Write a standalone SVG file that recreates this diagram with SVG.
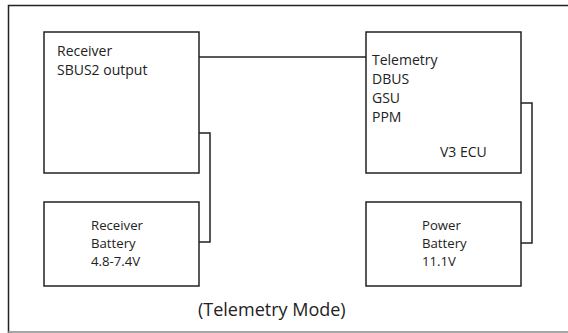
<svg xmlns="http://www.w3.org/2000/svg" width="568" height="333" viewBox="0 0 568 333">
<style>
.box{fill:#fff;stroke:#222;stroke-width:1.5}
.wire{fill:none;stroke:#222;stroke-width:1.5}
text{font-family:"Open Sans","Noto Sans",sans-serif;font-size:14px;fill:#222}
.sm{font-size:13.2px}
.big{font-size:18px}
</style>
<rect width="568" height="333" fill="#fff"/>
<g id="frame">
<path d="M8.5,333 V5.5 H568" class="wire"/>
<line x1="8" y1="332" x2="568" y2="332" stroke="#888" stroke-width="1.5"/>
</g>
<g id="connectors">
<path class="wire" d="M199,57 H366"/>
<path class="wire" d="M199,133 H210 V242 H199"/>
<path class="wire" d="M521,103 H532 V243 H521"/>
</g>
<g id="receiver">
<rect class="box" x="44" y="32" width="155" height="141"/>
<text x="57" y="56">Receiver</text>
<text x="57" y="75">SBUS2 output</text>
</g>
<g id="ecu">
<rect class="box" x="366" y="32" width="155" height="141"/>
<text x="372" y="65">Telemetry</text>
<text x="372" y="84">DBUS</text>
<text x="372" y="103">GSU</text>
<text x="372" y="122">PPM</text>
<text x="440" y="157">V3 ECU</text>
</g>
<g id="receiver-battery">
<rect class="box" x="44" y="202" width="155" height="84"/>
<text class="sm" x="91" y="230">Receiver</text>
<text class="sm" x="91" y="248">Battery</text>
<text class="sm" x="91" y="266">4.8-7.4V</text>
</g>
<g id="power-battery">
<rect class="box" x="366" y="202" width="155" height="84"/>
<text class="sm" x="422" y="230">Power</text>
<text class="sm" x="422" y="248">Battery</text>
<text class="sm" x="422" y="266">11.1V</text>
</g>
<text class="big" x="198" y="316">(Telemetry Mode)</text>
</svg>
